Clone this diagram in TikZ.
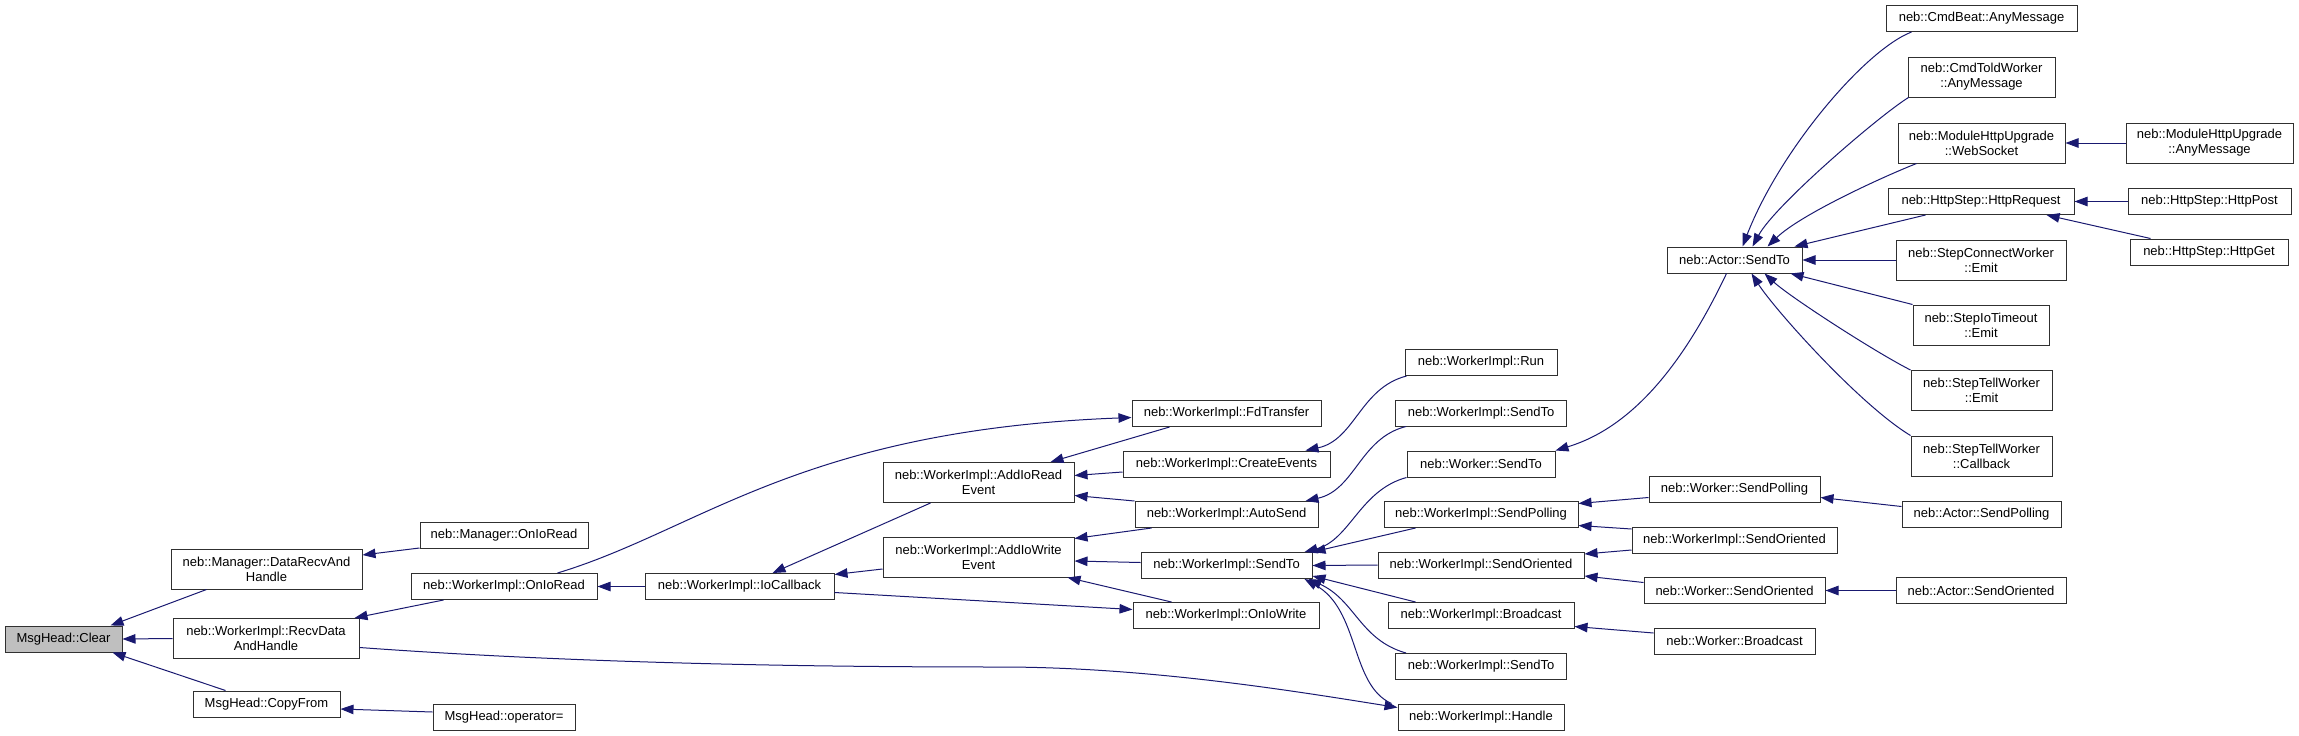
\documentclass[tikz,border=0pt]{standalone}
\usepackage{fontspec}
\setmainfont{Liberation Sans}
\usetikzlibrary{arrows.meta,calc}
\definecolor{edgeblue}{HTML}{191970}
\definecolor{nodegray}{HTML}{BFBFBF}
\definecolor{boxline}{HTML}{303030}
\begin{document}
\begin{tikzpicture}[x=1pt,y=-1pt,
 dbox/.style={draw=boxline, line width=1pt, inner sep=0pt, minimum height=26pt, align=center, font=\fontsize{13}{15}\selectfont, fill=white},
 tall/.style={minimum height=40pt},
 conn/.style={draw=edgeblue, line width=1pt, -{Triangle[length=13pt,width=9.5pt]}},
]
\useasboundingbox (0,0) rectangle (2299,736);
% rank 0
\node[dbox, fill=nodegray, minimum width=117pt] (clear) at (63.5,639) {MsgHead::Clear};
% rank 1
\node[dbox, tall, minimum width=191pt] (drh) at (266.5,569) {neb::Manager::DataRecvAnd\\Handle};
\node[dbox, tall, minimum width=186pt] (rdh) at (266,638.5) {neb::WorkerImpl::RecvData\\AndHandle};
\node[dbox, minimum width=147pt] (copyfrom) at (266.5,704) {MsgHead::CopyFrom};
% rank 2
\node[dbox, minimum width=168pt] (monioread) at (504,535.5) {neb::Manager::OnIoRead};
\node[dbox, minimum width=186pt] (wionioread) at (504,586.5) {neb::WorkerImpl::OnIoRead};
\node[dbox, minimum width=142pt] (opeq) at (504,717) {MsgHead::operator=};
% rank 3
\node[dbox, minimum width=189pt] (iocb) at (739.5,586.5) {neb::WorkerImpl::IoCallback};
% rank 4
\node[dbox, tall, minimum width=191pt] (addread) at (978.5,482.5) {neb::WorkerImpl::AddIoRead\\Event};
\node[dbox, tall, minimum width=191pt] (addwrite) at (978.5,557) {neb::WorkerImpl::AddIoWrite\\Event};
% rank 5
\node[dbox, minimum width=189pt] (fd) at (1226.5,413.5) {neb::WorkerImpl::FdTransfer};
\node[dbox, minimum width=207pt] (create) at (1226.5,464) {neb::WorkerImpl::CreateEvents};
\node[dbox, minimum width=183pt] (autosend) at (1226.5,514.5) {neb::WorkerImpl::AutoSend};
\node[dbox, minimum width=171pt] (wisendto) at (1226.5,565.5) {neb::WorkerImpl::SendTo};
\node[dbox, minimum width=186pt] (oniowrite) at (1226,615.5) {neb::WorkerImpl::OnIoWrite};
% rank 6
\node[dbox, minimum width=152pt] (run) at (1481,362.5) {neb::WorkerImpl::Run};
\node[dbox, minimum width=171pt] (wisendtoA) at (1481,413) {neb::WorkerImpl::SendTo};
\node[dbox, minimum width=148pt] (wsendto) at (1481,464) {neb::Worker::SendTo};
\node[dbox, minimum width=194pt] (wisendpoll) at (1481,514.5) {neb::WorkerImpl::SendPolling};
\node[dbox, minimum width=206pt] (wisendor) at (1481,565) {neb::WorkerImpl::SendOriented};
\node[dbox, minimum width=186pt] (wibcast) at (1481,615.5) {neb::WorkerImpl::Broadcast};
\node[dbox, minimum width=171pt] (wisendtoB) at (1481,666.5) {neb::WorkerImpl::SendTo};
\node[dbox, minimum width=166pt] (handle) at (1481,717) {neb::WorkerImpl::Handle};
% rank 7
\node[dbox, minimum width=135pt] (asendto) at (1734.5,260) {neb::Actor::SendTo};
\node[dbox, minimum width=171pt] (wsendpoll) at (1734.5,489.5) {neb::Worker::SendPolling};
\node[dbox, minimum width=205pt] (wisendor2) at (1734.5,540) {neb::WorkerImpl::SendOriented};
\node[dbox, minimum width=181pt] (wsendor) at (1734.5,590.5) {neb::Worker::SendOriented};
\node[dbox, minimum width=161pt] (wbcast) at (1734.5,641) {neb::Worker::Broadcast};
% rank 8
\node[dbox, minimum width=191pt] (cmdbeat) at (1981.5,18.5) {neb::CmdBeat::AnyMessage};
\node[dbox, tall, minimum width=147pt] (told) at (1981.5,77) {neb::CmdToldWorker\\::AnyMessage};
\node[dbox, tall, minimum width=167pt] (websock) at (1981.5,143) {neb::ModuleHttpUpgrade\\::WebSocket};
\node[dbox, minimum width=186pt] (httpreq) at (1981,201.5) {neb::HttpStep::HttpRequest};
\node[dbox, tall, minimum width=170pt] (stepconn) at (1981,260) {neb::StepConnectWorker\\::Emit};
\node[dbox, tall, minimum width=136pt] (stepio) at (1981,325) {neb::StepIoTimeout\\::Emit};
\node[dbox, tall, minimum width=141pt] (steptellE) at (1981.5,390.5) {neb::StepTellWorker\\::Emit};
\node[dbox, tall, minimum width=141pt] (steptellC) at (1981.5,456) {neb::StepTellWorker\\::Callback};
\node[dbox, minimum width=159pt] (asendpoll) at (1981.5,514.5) {neb::Actor::SendPolling};
\node[dbox, minimum width=170pt] (asendor) at (1981,590.5) {neb::Actor::SendOriented};
% rank 9
\node[dbox, tall, minimum width=167pt] (mhuany) at (2209.5,143) {neb::ModuleHttpUpgrade\\::AnyMessage};
\node[dbox, minimum width=163pt] (httppost) at (2209.5,201.5) {neb::HttpStep::HttpPost};
\node[dbox, minimum width=158pt] (httpget) at (2209,252) {neb::HttpStep::HttpGet};

% edges
\draw[conn] ($(drh.south west)+(36,0)$) -- ($(clear.north east)+(-12,0)$);
\draw[conn] (rdh.west) -- (clear.east);
\draw[conn] ($(copyfrom.north west)+(33,0)$) -- ($(clear.south east)+(-10,0)$);
\draw[conn] ($(monioread.south west)+(0,-1)$) -- ($(drh.east)+(0,-14)$);
\draw[conn] ($(wionioread.south west)+(33,0)$) -- ($(rdh.north east)+(-5,0)$);
\draw[conn] ($(rdh.east)+(0,9)$) .. controls (600,665) and (850,667) .. (1000,667) .. controls (1150,667) and (1300,692) .. ($(handle.north west)+(0,4)$);
\draw[conn] ($(opeq.west)+(0,-5)$) -- ($(copyfrom.east)+(0,5)$);
\draw[conn] (iocb.west) -- (wionioread.east);
\draw[conn] ($(wionioread.north east)+(-40,0)$) .. controls (700,530) and (800,430) .. ($(fd.west)+(0,4)$);
\draw[conn] ($(addread.south west)+(48,0)$) -- ($(iocb.north east)+(-62,0)$);
\draw[conn] ($(addwrite.west)+(0,12)$) -- ($(iocb.east)+(0,-12)$);
\draw[conn] ($(iocb.east)+(0,6)$) -- ($(oniowrite.west)+(0,-6)$);
\draw[conn] ($(fd.south west)+(38,0)$) -- ($(addread.north east)+(-24,0)$);
\draw[conn] ($(create.west)+(0,8)$) -- ($(addread.east)+(0,-7)$);
\draw[conn] (autosend.north west) -- ($(addread.east)+(0,13)$);
\draw[conn] ($(autosend.south west)+(17,0)$) -- ($(addwrite.north east)+(0,2)$);
\draw[conn] ($(wisendto.west)+(0,-3)$) -- ($(addwrite.east)+(0,4)$);
\draw[conn] ($(oniowrite.north west)+(39,0)$) -- ($(addwrite.south east)+(-7,0)$);
\draw[conn] ($(run.south west)+(2,0)$) .. controls (1360,388) and (1355,440) .. ($(create.north east)+(-25,0)$);
\draw[conn] ($(wisendtoA.south west)+(11,0)$) .. controls (1360,438) and (1355,490) .. ($(autosend.north east)+(-13,0)$);
\draw[conn] (wsendto.south west) .. controls (1360,490) and (1350,540) .. ($(wisendto.north east)+(-8,0)$);
\draw[conn] ($(wisendpoll.south west)+(32,0)$) -- (wisendto.north east);
\draw[conn] (wisendor.west) -- (wisendto.east);
\draw[conn] ($(wibcast.north west)+(28,0)$) -- ($(wisendto.south east)+(0,-3)$);
\draw[conn] ($(wisendtoB.north west)+(11,0)$) .. controls (1360,640) and (1355,600) .. ($(wisendto.south east)+(-4,0)$);
\draw[conn] ($(handle.north west)+(-6,0)$) .. controls (1350,685) and (1360,610) .. ($(wisendto.south east)+(-8,0)$);
\draw[conn] ($(asendto.south west)+(60,0)$) .. controls (1690,350) and (1640,425) .. (wsendto.north east);
\draw[conn] ($(wsendpoll.west)+(0,8)$) -- ($(wisendpoll.east)+(0,-11)$);
\draw[conn] ($(wisendor2.west)+(0,-11)$) -- ($(wisendpoll.east)+(0,11)$);
\draw[conn] ($(wisendor2.west)+(0,10)$) -- ($(wisendor.east)+(0,-11)$);
\draw[conn] ($(wsendor.west)+(0,-8)$) -- ($(wisendor.east)+(0,11)$);
\draw[conn] ($(wbcast.west)+(0,-8)$) -- ($(wibcast.east)+(0,11)$);
\draw[conn] ($(cmdbeat.south west)+(26,0)$) .. controls (1865,50) and (1780,150) .. ($(asendto.north)+(8,0)$);
\draw[conn] ($(told.south west)+(1,0)$) .. controls (1880,115) and (1775,205) .. ($(asendto.north)+(18,0)$);
\draw[conn] ($(websock.south west)+(19,0)$) .. controls (1880,178) and (1800,215) .. ($(asendto.north east)+(-35,0)$);
\draw[conn] ($(httpreq.south west)+(38,0)$) -- ($(asendto.north east)+(-8,0)$);
\draw[conn] (stepconn.west) -- (asendto.east);
\draw[conn] (stepio.north west) -- ($(asendto.south east)+(-12,0)$);
\draw[conn] (steptellE.north west) .. controls (1875,352) and (1790,297) .. ($(asendto.south)+(30,0)$);
\draw[conn] (steptellC.north west) .. controls (1860,405) and (1775,310) .. ($(asendto.south)+(17,0)$);
\draw[conn] (mhuany.west) -- (websock.east);
\draw[conn] (httppost.west) -- (httpreq.east);
\draw[conn] ($(httpget.north west)+(21,0)$) -- ($(httpreq.south east)+(-28,0)$);
\draw[conn] ($(asendpoll.west)+(0,-8)$) -- ($(wsendpoll.east)+(0,8)$);
\draw[conn] (asendor.west) -- (wsendor.east);
\end{tikzpicture}
\end{document}
